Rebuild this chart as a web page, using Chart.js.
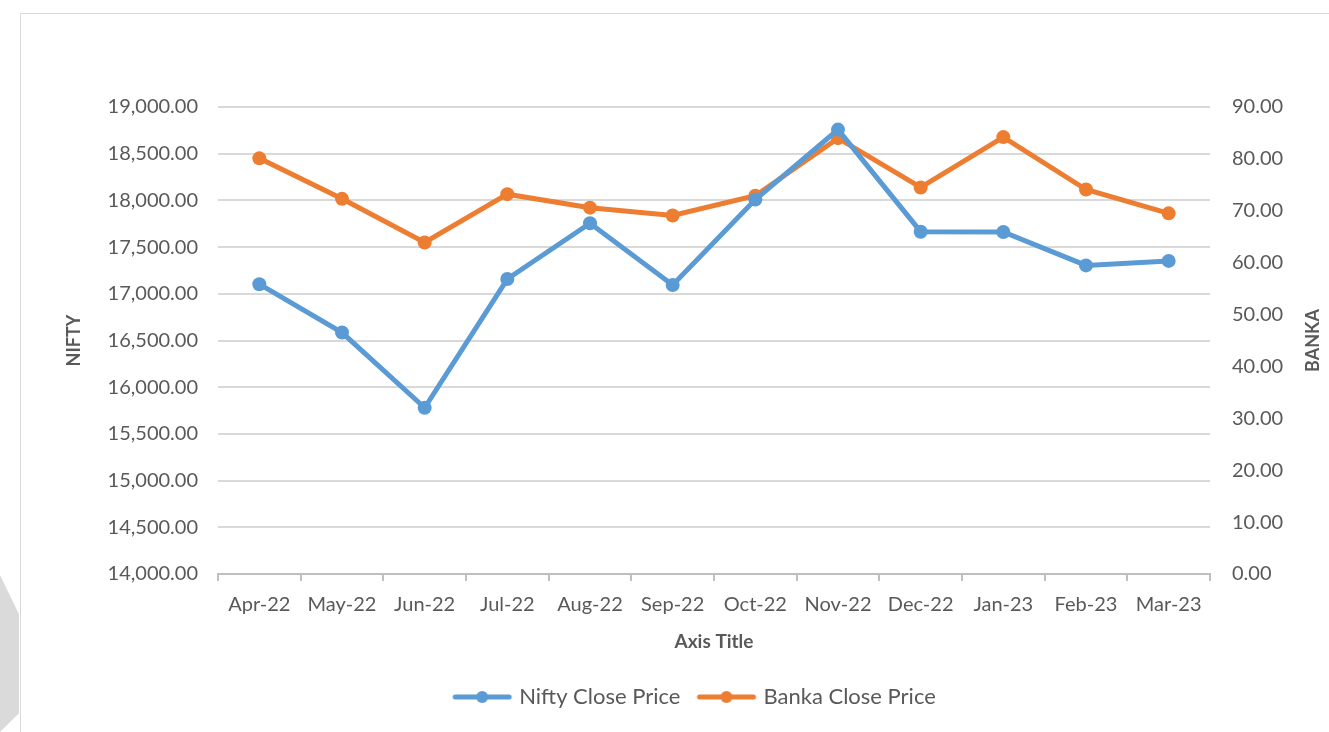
<!DOCTYPE html>
<html>
<head>
<meta charset="utf-8">
<script src="https://cdn.jsdelivr.net/npm/chart.js@4.4.1/dist/chart.umd.min.js"></script>
<style>
  html, body { margin: 0; padding: 0; background: #fff; overflow: hidden; }
  #wrap { position: relative; width: 1329px; height: 732px; }
  #frame { position: absolute; left: 20px; top: 13px; width: 1320px; height: 730px; border: 1px solid #D9D9D9; }
  #tri { position: absolute; left: 0; top: 575px; width: 19px; height: 157px; background: #DADADA;
         clip-path: polygon(0 0, 100% 25%, 100% 88%, 0 100%); }
  #chart { position: absolute; left: 0; top: 0; }
</style>
</head>
<body>
<div id="wrap">
  <div id="frame"></div>
  <div id="tri"></div>
  <canvas id="chart" width="1329" height="732"></canvas>
</div>
<script>
// values
const months = ['Apr-22', 'May-22', 'Jun-22', 'Jul-22', 'Aug-22', 'Sep-22',
                'Oct-22', 'Nov-22', 'Dec-22', 'Jan-23', 'Feb-23', 'Mar-23'];
const niftyClose = [17103, 16585, 15780, 17158, 17755, 17094, 18010, 18758, 17665, 17662, 17304, 17352];
const bankaClose = [80.1, 72.3, 63.9, 73.2, 70.6, 69.1, 72.9, 84.0, 74.5, 84.2, 74.1, 69.5];

const FONT = "Lato, 'Open Sans', sans-serif";
const TXT = '#595959';
const BLUE = '#5B9BD5';
const ORANGE = '#ED7D31';

// excel style legend mark: line with a dot in the middle
// (a bit wider than the legend box so the text sits close to it)
function legendMark(color) {
  const c = document.createElement('canvas');
  c.width = 62; c.height = 16;
  const g = c.getContext('2d');
  g.strokeStyle = color;
  g.lineWidth = 5;
  g.lineCap = 'round';
  g.beginPath(); g.moveTo(4, 8); g.lineTo(58, 8); g.stroke();
  g.fillStyle = color;
  g.beginPath(); g.arc(31, 8, 6, 0, Math.PI * 2); g.fill();
  return c;
}

// right axis title reads bottom-to-top like the left one
const rightTitle = {
  id: 'rightTitle',
  afterDraw(chart) {
    const ctx = chart.ctx;
    const a = chart.chartArea;
    const s = chart.scales.y1;
    ctx.save();
    ctx.translate(s.right - 16, (a.top + a.bottom) / 2);
    ctx.rotate(-Math.PI / 2);
    ctx.font = 'bold 18px ' + FONT;
    ctx.fillStyle = TXT;
    ctx.textAlign = 'center';
    ctx.textBaseline = 'middle';
    ctx.fillText('BANKA', 0, 0);
    ctx.restore();
  }
};

const ctx = document.getElementById('chart').getContext('2d');
new Chart(ctx, {
  type: 'line',
  data: {
    labels: months,
    datasets: [
      {
        label: 'Nifty Close Price',
        data: niftyClose,
        yAxisID: 'y',
        borderColor: BLUE,
        backgroundColor: BLUE,
        borderWidth: 5,
        pointRadius: 7,
        pointHoverRadius: 7,
        pointBorderWidth: 0,
        tension: 0
      },
      {
        label: 'Banka Close Price',
        data: bankaClose,
        yAxisID: 'y1',
        borderColor: ORANGE,
        backgroundColor: ORANGE,
        borderWidth: 5,
        pointRadius: 7,
        pointHoverRadius: 7,
        pointBorderWidth: 0,
        tension: 0
      }
    ]
  },
  options: {
    responsive: false,
    animation: false,
    layout: { padding: { left: 63, right: 0, top: 107, bottom: 14 } },
    scales: {
      x: {
        offset: true,
        grid: { offset: true, drawOnChartArea: false, tickLength: 7, color: '#BFBFBF', lineWidth: 2 },
        border: { color: '#BFBFBF', width: 2 },
        ticks: { color: TXT, font: { family: FONT, size: 20 }, maxRotation: 0, autoSkip: false, padding: 12 },
        title: { display: true, text: 'Axis Title', color: TXT, font: { family: FONT, size: 19, weight: 'bold' }, padding: { top: 0, bottom: 13 } },
        afterFit(scale) { scale.height = 92; }
      },
      y: {
        position: 'left',
        min: 14000,
        max: 19000,
        grid: { color: '#D9D9D9', lineWidth: 2, drawTicks: false },
        border: { display: false },
        ticks: {
          stepSize: 500,
          color: TXT,
          font: { family: FONT, size: 20 },
          padding: 20,
          callback: v => v.toLocaleString('en-US', { minimumFractionDigits: 2, maximumFractionDigits: 2 })
        },
        title: { display: true, text: 'NIFTY', color: TXT, font: { family: FONT, size: 18, weight: 'bold' }, padding: 0 },
        afterFit(scale) { scale.width = 155; }
      },
      y1: {
        position: 'right',
        min: 0,
        max: 90,
        grid: { drawOnChartArea: false, drawTicks: false },
        border: { display: false },
        ticks: {
          stepSize: 10,
          color: TXT,
          font: { family: FONT, size: 20 },
          padding: 22,
          callback: v => v.toFixed(2)
        },
        afterFit(scale) { scale.width = 119; }
      }
    },
    plugins: {
      tooltip: { enabled: false },
      legend: {
        position: 'bottom',
        labels: {
          color: TXT,
          font: { family: FONT, size: 22 },
          usePointStyle: true,
          pointStyleWidth: 52,
          padding: 20,
          generateLabels(chart) {
            return chart.data.datasets.map((ds, i) => ({
              text: ds.label,
              fillStyle: ds.borderColor,
              strokeStyle: ds.borderColor,
              fontColor: TXT,
              lineWidth: 0,
              pointStyle: legendMark(ds.borderColor),
              hidden: false,
              datasetIndex: i
            }));
          }
        }
      }
    }
  },
  plugins: [rightTitle]
});
</script>
</body>
</html>
